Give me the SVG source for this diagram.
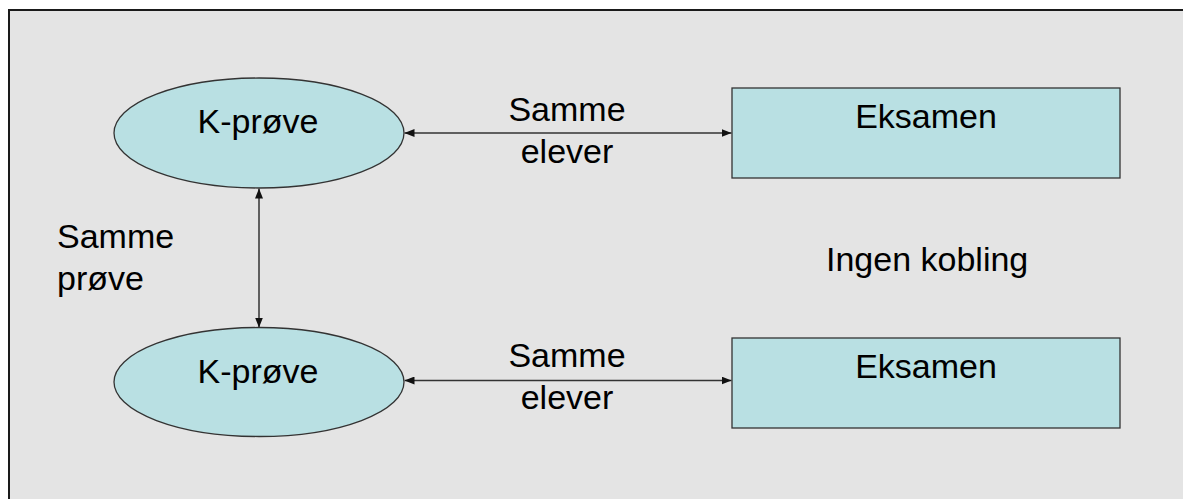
<svg xmlns="http://www.w3.org/2000/svg" width="1183" height="499" viewBox="0 0 1183 499">
<defs>
<style>
.bg{fill:#e4e4e4;stroke:#1a1a1a;stroke-width:2}
.node{fill:#b9e0e3;stroke:#333333;stroke-width:1.3}
.t{font-family:"Liberation Sans",Arial,sans-serif;font-size:34px;fill:#000000}
.c{text-anchor:middle}
.conn{stroke:#333333;stroke-width:1.5;fill:none;marker-start:url(#ah);marker-end:url(#ah)}
</style>
<marker id="ah" viewBox="0 0 10 8" refX="10" refY="4" markerWidth="10" markerHeight="8" markerUnits="userSpaceOnUse" orient="auto-start-reverse">
<path d="M0,0 L10,4 L0,8 Z" fill="#111111"/>
</marker>
</defs>
<rect x="0" y="0" width="1183" height="499" fill="#ffffff"/>
<rect class="bg" x="9" y="10" width="1190" height="500"/>
<g id="connectors">
<line class="conn" x1="404.5" y1="133" x2="731.5" y2="133"/>
<line class="conn" x1="404.5" y1="380.5" x2="731.5" y2="380.5"/>
<line class="conn" x1="259" y1="188.5" x2="259" y2="327.5"/>
</g>
<g id="kprove1">
<ellipse class="node" cx="259" cy="133" rx="145" ry="55"/>
<text class="t c" x="258" y="133">K-prøve</text>
</g>
<g id="kprove2">
<ellipse class="node" cx="259" cy="382" rx="145" ry="54.5"/>
<text class="t c" x="258" y="383">K-prøve</text>
</g>
<g id="eksamen1">
<rect class="node" x="732" y="88" width="388" height="90"/>
<text class="t c" x="926" y="128">Eksamen</text>
</g>
<g id="eksamen2">
<rect class="node" x="732" y="338" width="388" height="90"/>
<text class="t c" x="926" y="378">Eksamen</text>
</g>
<g id="labels">
<text class="t c" x="567" y="121">Samme</text>
<text class="t c" x="567" y="163">elever</text>
<text class="t c" x="567" y="367">Samme</text>
<text class="t c" x="567" y="409">elever</text>
<text class="t" x="57" y="248">Samme</text>
<text class="t" x="57" y="290">prøve</text>
<text class="t" x="826" y="271">Ingen kobling</text>
</g>
</svg>
